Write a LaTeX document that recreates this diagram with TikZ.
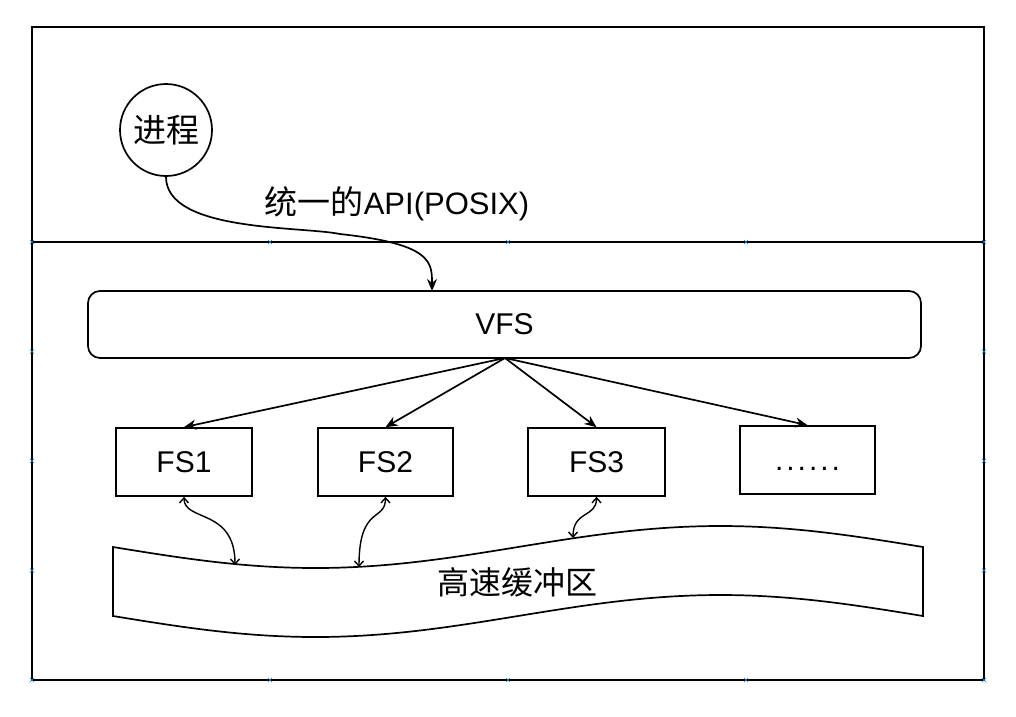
\documentclass[tikz,border=0pt]{standalone}
\usepackage{fontspec}
\setmainfont{Liberation Sans}
\newfontfamily\cjk{Noto Sans CJK SC}
\usetikzlibrary{arrows.meta,calc}
\begin{document}
\begin{tikzpicture}[x=1pt,y=-1pt,
  line width=1.7pt,
  lat/.style={font=\fontsize{30}{36}\selectfont},
  box/.style={draw,rectangle,minimum width=136pt,minimum height=68pt,inner sep=0pt,lat},
  main/.style={-{Stealth[length=12pt,width=10pt]}},
  dbl/.style={{Straight Barb[length=5pt,width=9pt]}-{Straight Barb[length=5pt,width=9pt]},line width=1.4pt},
  handle/.style={draw=cyan!60!blue,line width=0.6pt}]
\useasboundingbox (0,0) rectangle (1016,716);
% frame
\draw (32,27) rectangle (984,680);
\draw (32,242) -- (984,242);
% handles
\foreach \p in {(32,242),(270,242),(508,242),(746,242),(984,242),
                (32,351.5),(32,461),(32,570.5),(984,351.5),(984,461),(984,570.5),
                (32,680),(270,680),(508,680),(746,680),(984,680)}{
  \draw[handle] \p ++(-2,-2) -- ++(4,4) \p ++(-2,2) -- ++(4,-4);
}
% nodes
\node[draw,circle,minimum size=92pt,inner sep=0pt,font=\cjk\fontsize{33}{36}\selectfont] (proc) at (166,130) {进程};
\node[font=\fontsize{31}{36}\selectfont,anchor=center] (api) at (397,204) {{\cjk\fontsize{33}{36}\selectfont 统一的}API(POSIX)};
\node[draw,rounded corners=12pt,minimum width=833pt,minimum height=67pt,inner sep=0pt,lat] (vfs) at (504.5,324.5) {VFS};
\node[box] (fs1) at (184,462) {FS1};
\node[box,minimum width=135pt] (fs2) at (385.5,462) {FS2};
\node[box,minimum width=137pt] (fs3) at (596.5,462) {FS3};
\node[box,minimum width=135pt] (fsn) at (807.5,460) {\vphantom{FS}.\kern3pt.\kern3pt.\kern3pt.\kern3pt.\kern3pt.};
% cache banner
\draw (113,547) sin (315.5,568) cos (518,547) sin (720.5,526) cos (923,547)
      -- (923,616) sin (720.5,595) cos (518,616) sin (315.5,637) cos (113,616) -- cycle;
\node[font=\cjk\fontsize{32}{36}\selectfont] (cache) at (517,582) {高速缓冲区};
\coordinate (c1) at (235,565);
\coordinate (c2) at (359,567);
\coordinate (c3) at (573,538);
\coordinate (vfsin) at (432,291);
\coordinate (vfsout) at (505,358);
% connectors
\draw[main] (proc.south) .. controls (166,232) and (300,226) .. (340,234)
            .. controls (432,244) and (432,262) .. (vfsin);
\draw[main] (vfsout) -- (fs1.north);
\draw[main] (vfsout) -- (fs2.north);
\draw[main] (vfsout) -- (fs3.north);
\draw[main] (vfsout) -- (fsn.north);
\draw[dbl] (fs1.south) .. controls (184,522) and (235,508) .. (c1);
\draw[dbl] (fs2.south) .. controls (385.5,522) and (359,505) .. (c2);
\draw[dbl] (fs3.south) .. controls (596.5,518) and (573,510) .. (c3);
\end{tikzpicture}
\end{document}
